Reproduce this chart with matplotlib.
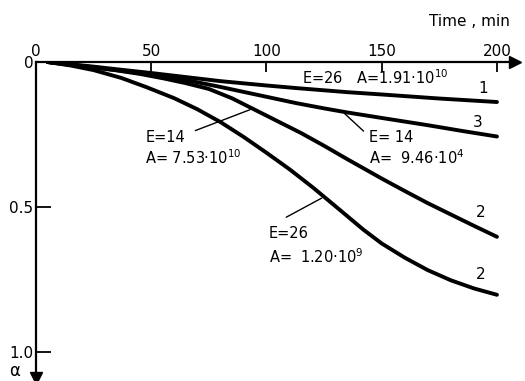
import matplotlib
matplotlib.use("Agg")
import numpy as np
import matplotlib.pyplot as plt

# conversion degree alpha vs time
t1 = [5, 15, 25, 35, 50, 65, 80, 100, 113, 135, 150, 175, 200]
a1 = [0.0, 0.008, 0.016, 0.025, 0.038, 0.052, 0.066, 0.081, 0.09, 0.104, 0.112, 0.126, 0.138]

t3 = [5, 15, 25, 35, 50, 65, 80, 90, 100, 113, 125, 135, 150, 170, 185, 200]
a3 = [0.0, 0.009, 0.018, 0.028, 0.043, 0.062, 0.086, 0.103, 0.12, 0.142, 0.16, 0.174, 0.193, 0.218, 0.238, 0.257]

t2a = [5, 15, 25, 35, 45, 55, 65, 75, 85, 95, 105, 115, 125, 135, 150, 160, 170, 180, 190, 200]
a2a = [0.0, 0.01, 0.019, 0.029, 0.041, 0.056, 0.073, 0.093, 0.125, 0.165, 0.205, 0.245, 0.289, 0.335, 0.402, 0.445, 0.487, 0.526, 0.565, 0.603]

t2b = [5, 15, 25, 37, 48, 60, 70, 80, 90, 100, 110, 120, 130, 142, 150, 160, 170, 180, 190, 200]
a2b = [0.0, 0.012, 0.028, 0.055, 0.087, 0.125, 0.163, 0.207, 0.258, 0.313, 0.37, 0.432, 0.498, 0.578, 0.626, 0.675, 0.718, 0.753, 0.781, 0.803]

xticks = [0, 50, 100, 150, 200]
yticks = [0, 0.5, 1.0]

plt.rcParams['font.family'] = 'DejaVu Sans'
plt.rcParams['font.size'] = 11

fig = plt.figure(figsize=(5.25, 3.81), dpi=100)
ax = fig.add_axes([36/525, 3/381, 479.4/525, 316/381])
ax.set_xlim(0, 208)
ax.set_ylim(1.09, 0)

lw = 2.8
for t, a in [(t1, a1), (t3, a3), (t2a, a2a), (t2b, a2b)]:
    ax.plot(t, a, 'k-', lw=lw, solid_capstyle='round', solid_joinstyle='round')

# axes drawn as arrows through the origin
for s in ['right', 'bottom']:
    ax.spines[s].set_visible(False)
ax.spines['top'].set_linewidth(1.6)
ax.spines['left'].set_linewidth(1.6)
ax.plot([208], [0], marker='>', color='k', ms=9, clip_on=False)
ax.plot([0], [1.09], marker='v', color='k', ms=9, clip_on=False)

ax.xaxis.tick_top()
ax.set_xticks(xticks)
ax.set_xticklabels([str(v) for v in xticks])
ax.tick_params(axis='x', direction='in', length=7, width=1.3, pad=2, labelsize=11)
ax.set_yticks(yticks)
ax.set_yticklabels(['0', '0.5', '1.0'])
ax.tick_params(axis='y', direction='in', length=11, width=1.3, pad=2, labelsize=11)

ax.text(188, -0.138, 'Time , min', ha='center', va='center', fontsize=11, clip_on=False)
ax.text(-0.045, 1.065, 'α', transform=ax.get_yaxis_transform(), ha='center', va='center', fontsize=12)

# curve numbers
ax.text(193.8, 0.09, '1', ha='center', va='center')
ax.text(191.7, 0.21, '3', ha='center', va='center')
ax.text(193, 0.52, '2', ha='center', va='center')
ax.text(193, 0.734, '2', ha='center', va='center')

# parameter labels
ax.text(115.5, 0.055, 'E=26   A=1.91·10$^{10}$', ha='left', va='center', fontsize=10.5)

ax.text(47.5, 0.262, 'E=14', ha='left', va='center', fontsize=10.5)
ax.text(47.5, 0.33, 'A= 7.53·10$^{10}$', ha='left', va='center', fontsize=10.5)
ax.annotate('', xy=(94, np.interp(94, t2a, a2a)), xytext=(68, 0.24),
            arrowprops=dict(arrowstyle='-', lw=1, color='k'))

ax.text(144.5, 0.262, 'E= 14', ha='left', va='center', fontsize=10.5)
ax.text(144.5, 0.33, 'A=  9.46·10$^{4}$', ha='left', va='center', fontsize=10.5)
ax.annotate('', xy=(133, np.interp(133, t3, a3)), xytext=(143, 0.245),
            arrowprops=dict(arrowstyle='-', lw=1, color='k'))

ax.text(101, 0.59, 'E=26', ha='left', va='center', fontsize=10.5)
ax.text(101, 0.672, 'A=  1.20·10$^{9}$', ha='left', va='center', fontsize=10.5)
ax.annotate('', xy=(125, np.interp(125, t2b, a2b)), xytext=(107.5, 0.54),
            arrowprops=dict(arrowstyle='-', lw=1, color='k'))

fig.savefig("out.png", dpi=100)
